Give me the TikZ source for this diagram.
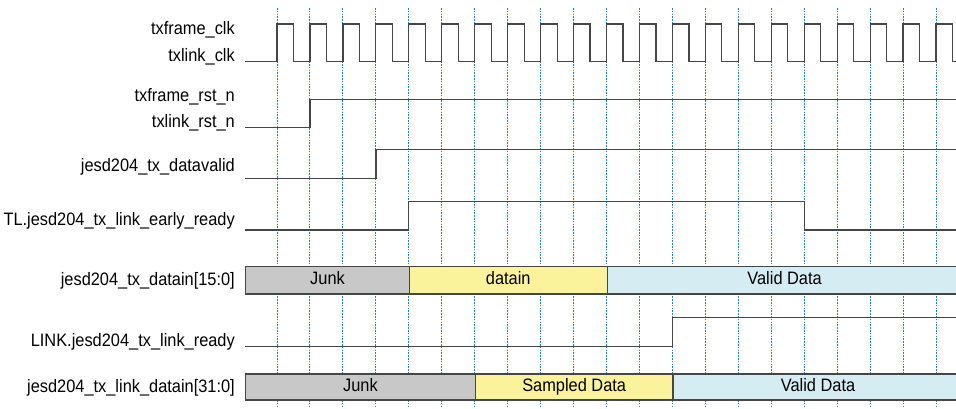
\documentclass[tikz,border=0pt]{standalone}
\usepackage{fontspec}
\setmainfont{Liberation Sans}[FakeStretch=0.91]
\usepackage{xcolor}
\definecolor{wavegray}{RGB}{70,70,70}
\definecolor{gridblue}{RGB}{40,125,190}

\begin{document}
\begin{tikzpicture}[x=1pt, y=-1pt,
    lbl/.style={anchor=base east, inner sep=0pt, font=\fontsize{18}{21}\selectfont},
    wave/.style={wavegray, line width=1.2pt},
    grid line/.style={gridblue, line width=1pt, dash pattern=on 1.6pt off 1.2pt},
    bus/.style={draw=wavegray, line width=1.2pt, anchor=north west, inner sep=0pt,
        text height=11.5pt, text depth=3pt, font=\fontsize{18}{21}\selectfont}]
    % Define colors
    \definecolor{junkgray}{RGB}{200,200,200}
    \definecolor{datayellow}{RGB}{250,243,155}
    \definecolor{validblue}{RGB}{213,236,243}

    \useasboundingbox (0,0) rectangle (956,408);

    % Clock edge grid (dotted)
    \foreach \k in {0,...,20} {
        \draw[grid line] ({277+32.95*\k},8) -- ({277+32.95*\k},408);
    }

    % Signal names
    \node[lbl] (nframeclk) at (235,34.5) {txframe\_clk};
    \node[lbl] (nlinkclk) at (235,61.7) {txlink\_clk};
    \node[lbl] (nframerst) at (235,101) {txframe\_rst\_n};
    \node[lbl] (nlinkrst) at (235,127.7) {txlink\_rst\_n};
    \node[lbl] (ndatavalid) at (235,171) {jesd204\_tx\_datavalid};
    \node[lbl] (nearly) at (235,225.5) {TL.jesd204\_tx\_link\_early\_ready};
    \node[lbl] (ndatain) at (235,285.5) {jesd204\_tx\_datain[15:0]};
    \node[lbl] (nlinkready) at (235,346.3) {LINK.jesd204\_tx\_link\_ready};
    \node[lbl] (nlinkdatain) at (235,392.5) {jesd204\_tx\_link\_datain[31:0]};

    % Clocks
    \draw[wave] (245,61.7) foreach \k in {0,...,20} {
        -- ({277+32.95*\k},61.7) -- ({277+32.95*\k},24)
        -- ({293.5+32.95*\k},24) -- ({293.5+32.95*\k},61.7) } -- (956,61.7);

    % Resets
    \draw[wave] (245,127.7) -- (310,127.7) -- (310,99.3) -- (956,99.3);

    % Data valid
    \draw[wave] (245,178.3) -- (375.9,178.3) -- (375.9,149.7) -- (956,149.7);

    % Early ready
    \draw[wave] (245,230) -- (408.8,230) -- (408.8,201.7) -- (804.2,201.7)
        -- (804.2,230) -- (956,230);

    % Transport layer data bus
    \node[bus, fill=junkgray, minimum width=163.8pt, minimum height=27.3pt] (djunk) at (245,266) {Junk};
    \node[bus, fill=datayellow, minimum width=197.7pt, minimum height=27.3pt] (ddata) at (408.8,266) {datain};
    \node[bus, fill=validblue, minimum width=355pt, minimum height=27.3pt] (dvalid) at (606.5,266) {Valid Data};

    % Link ready
    \draw[wave] (245,346.3) -- (672.4,346.3) -- (672.4,317.3) -- (956,317.3);

    % Link layer data bus
    \node[bus, fill=junkgray, minimum width=229.7pt, minimum height=26pt] (ljunk) at (245,373.3) {Junk};
    \node[bus, fill=datayellow, minimum width=197.7pt, minimum height=26pt] (lsampled) at (474.7,373.3) {Sampled Data};
    \node[bus, fill=validblue, minimum width=290pt, minimum height=26pt] (lvalid) at (672.4,373.3) {Valid Data};
\end{tikzpicture}
\end{document}
